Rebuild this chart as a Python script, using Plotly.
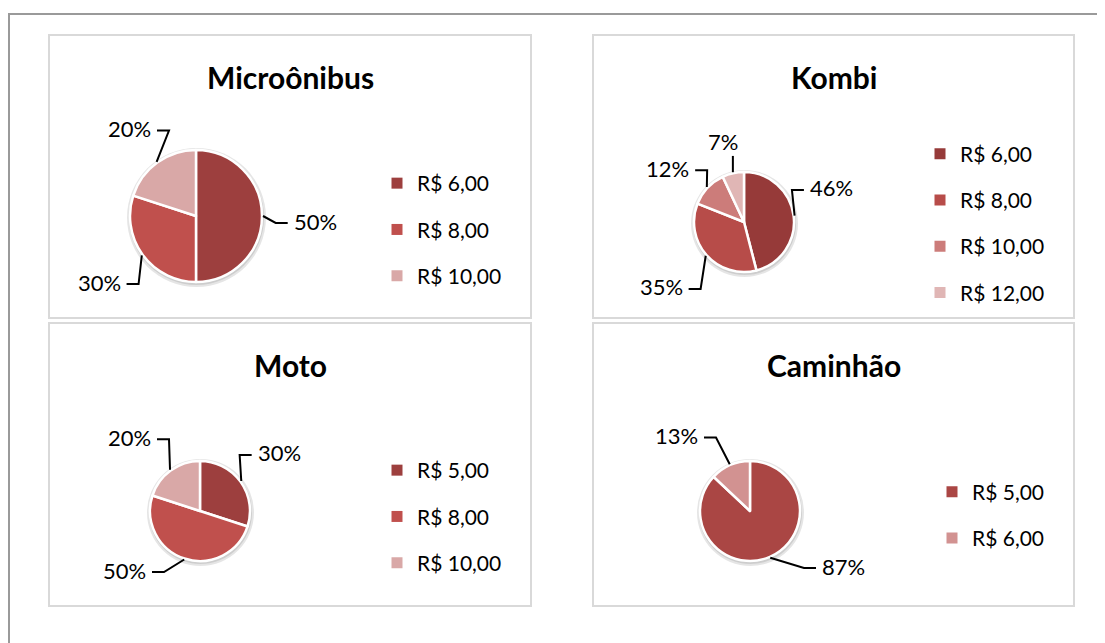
import math
import plotly.graph_objects as go

# ---------------- data ----------------
titles = ["Microônibus", "Kombi", "Moto", "Caminhão"]

micro_labels = ["R$ 6,00", "R$ 8,00", "R$ 10,00"]
micro_values = [50, 30, 20]

kombi_labels = ["R$ 6,00", "R$ 8,00", "R$ 10,00", "R$ 12,00"]
kombi_values = [46, 35, 12, 7]

moto_labels = ["R$ 5,00", "R$ 8,00", "R$ 10,00"]
moto_values = [30, 50, 20]

caminhao_labels = ["R$ 5,00", "R$ 6,00"]
caminhao_values = [87, 13]

# ---------------- styles / layout config ----------------
PAGE_W, PAGE_H = 1105, 643
OFF = 8  # browser body margin
W, H = PAGE_W - OFF, PAGE_H - OFF
micro_colors = ["#9d3f3e", "#c0504d", "#d9a8a7"]
kombi_colors = ["#963a39", "#b74c49", "#cc7c7a", "#e0b6b5"]
moto_colors = ["#9d3f3e", "#c0504d", "#d9a8a7"]
caminhao_colors = ["#aa4644", "#d29291"]

FONT = "Lato"

# per-label pixel nudges of the data-label placement (style only)
panels = [
    dict(title=titles[0], labels=micro_labels, values=micro_values, colors=micro_colors,
         box=(49, 35, 531, 318), center=(196, 216), r=66, legend_xy=(377, 229.5),
         nudge=[(0, 7), (4, 6), (23, 0)]),
    dict(title=titles[1], labels=kombi_labels, values=kombi_values, colors=kombi_colors,
         box=(593, 35, 1074, 318), center=(744, 222), r=50, legend_xy=(920, 223.5),
         nudge=[(-8, -22), (-5, 14), (0, 3), (0, 0)]),
    dict(title=titles[2], labels=moto_labels, values=moto_values, colors=moto_colors,
         box=(49, 323, 531, 606), center=(200, 511), r=50, legend_xy=(377, 516.5),
         nudge=[(-3, -9), (-2, 2), (3, -7)]),
    dict(title=titles[3], labels=caminhao_labels, values=caminhao_values, colors=caminhao_colors,
         box=(593, 323, 1074, 606), center=(750, 511), r=50, legend_xy=(932, 515),
         nudge=[(20, -2), (0, 0)]),
]


def px(x):
    return (x - OFF) / W


def py(y):
    return 1 - (y - OFF) / H


fig = go.Figure()
shapes = []
annotations = []

# outer frame (top and left edges)
shapes.append(dict(type="line", xref="paper", yref="paper", x0=px(8), x1=px(PAGE_W + 5),
                   y0=py(14), y1=py(14), line=dict(color="#9a9a9a", width=2), layer="below"))
shapes.append(dict(type="line", xref="paper", yref="paper", x0=px(9), x1=px(9),
                   y0=py(14), y1=py(PAGE_H + 5), line=dict(color="#9a9a9a", width=2), layer="below"))

for i, p in enumerate(panels):
    lg = "legend" if i == 0 else f"legend{i + 1}"
    x0, y0, x1, y1 = p["box"]
    cx, cy = p["center"]
    r = p["r"]

    # panel border
    shapes.append(dict(type="rect", xref="paper", yref="paper", x0=px(x0), x1=px(x1),
                       y0=py(y1), y1=py(y0), line=dict(color="#d9d9d9", width=2),
                       fillcolor="white", layer="below"))
    # soft shadow behind pie
    shapes.append(dict(type="circle", xref="paper", yref="paper",
                       x0=px(cx - r - 3), x1=px(cx + r + 4), y0=py(cy + r + 5), y1=py(cy - r - 2),
                       line=dict(width=0), fillcolor="rgba(0,0,0,0.10)", layer="below"))
    shapes.append(dict(type="circle", xref="paper", yref="paper",
                       x0=px(cx - r - 1), x1=px(cx + r + 2), y0=py(cy + r + 3), y1=py(cy - r),
                       line=dict(width=0), fillcolor="rgba(0,0,0,0.10)", layer="below"))

    # title
    annotations.append(dict(text=f"<b>{p['title']}</b>", xref="paper", yref="paper",
                            x=px((x0 + x1) / 2), y=py(y0 + 42), xanchor="center", yanchor="middle",
                            showarrow=False, font=dict(family=FONT, size=30, color="#000000")))

    # pie
    fig.add_trace(go.Pie(
        labels=p["labels"], values=p["values"], sort=False, direction="clockwise", rotation=0,
        marker=dict(colors=p["colors"], line=dict(color="white", width=2.5)),
        textinfo="none", hoverinfo="label+percent", showlegend=False,
        domain=dict(x=[px(cx - r), px(cx + r)], y=[py(cy + r), py(cy - r)]),
    ))

    # legend entries (one group per slice so spacing can be controlled)
    for lab, col in zip(p["labels"], p["colors"]):
        fig.add_trace(go.Scatter(
            x=[None], y=[None], mode="markers", name=lab, legend=lg,
            legendgroup=f"{i}-{lab}", showlegend=True,
            marker=dict(symbol="square", size=11, color=col, line=dict(width=0)),
        ))

    lx, ly = p["legend_xy"]
    fig.update_layout(**{lg: dict(
        x=px(lx), y=py(ly), xanchor="left", yanchor="middle", bgcolor="rgba(0,0,0,0)",
        font=dict(family=FONT, size=21, color="#000000"), tracegroupgap=16,
        itemclick=False, itemdoubleclick=False,
    )})

    # percentage labels with elbow leader lines, derived from the values
    total = sum(p["values"])
    cum = 0
    kh, kv = 1.45, 1.6
    for v, (ndx, ndy) in zip(p["values"], p["nudge"]):
        mid = (cum + v / 2) / total * 2 * math.pi
        cum += v
        s, c = math.sin(mid), math.cos(mid)
        ex, ey = cx + s * (r + 1), cy - c * (r + 1)
        pct = f"{round(v / total * 100)}%"
        if abs(s) < 0.3 and c > 0:
            # label straight above the slice
            lyp = cy - c * kv * r + ndy
            path = f"M {px(ex)},{py(ey)} L {px(ex)},{py(lyp + 12)}"
            shapes.append(dict(type="path", xref="paper", yref="paper", path=path,
                               line=dict(color="#000000", width=2)))
            annotations.append(dict(text=pct, xref="paper", yref="paper",
                                    x=px(ex - 10 + ndx), y=py(lyp - 2), xanchor="center",
                                    yanchor="middle", showarrow=False,
                                    font=dict(family=FONT, size=22, color="#000000")))
            continue
        sgn = 1 if s >= 0 else -1
        dx = max(abs(s) * kh * r, 1.0 * r)
        lxp = cx + sgn * dx + ndx
        lyp = min(cy - c * kv * r, y1 - 36) + ndy
        bx = lxp - sgn * 16
        tx = lxp - sgn * 4
        path = f"M {px(ex)},{py(ey)} L {px(bx)},{py(lyp)} L {px(tx)},{py(lyp)}"
        shapes.append(dict(type="path", xref="paper", yref="paper", path=path,
                           line=dict(color="#000000", width=2)))
        annotations.append(dict(text=pct, xref="paper", yref="paper",
                                x=px(lxp), y=py(lyp - 2), xanchor="left" if sgn > 0 else "right",
                                yanchor="middle", showarrow=False,
                                font=dict(family=FONT, size=22, color="#000000")))

fig.update_layout(
    width=W, height=H, margin=dict(l=0, r=0, t=0, b=0),
    paper_bgcolor="white", plot_bgcolor="white",
    xaxis=dict(visible=False), yaxis=dict(visible=False),
    shapes=shapes, annotations=annotations,
)

fig.write_html("out.html")
